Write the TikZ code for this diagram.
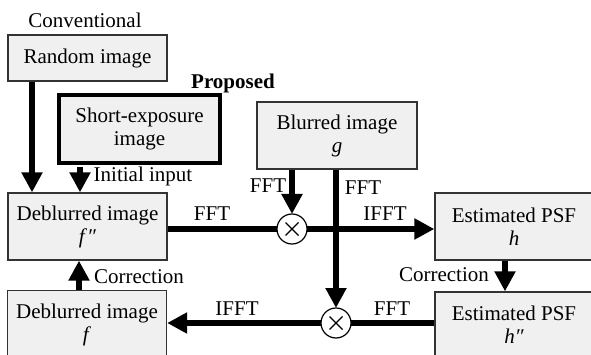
\documentclass[tikz,border=0pt]{standalone}
\usepackage{fontspec}
\setmainfont{Liberation Serif}
\usetikzlibrary{arrows.meta}

\begin{document}
\begin{tikzpicture}[x=1pt,y=-1pt,
	font=\fontsize{21}{23}\selectfont,
	box/.style={draw=black!80, line width=1.3pt, fill={rgb,255:red,240;green,240;blue,240}, align=center, inner sep=0pt},
	thickbox/.style={box, draw=black, line width=4pt},
	mult/.style={draw, circle, line width=1.2pt, fill=white, minimum size=30pt, inner sep=0pt},
	flow/.style={line width=5.5pt},
	bigtip/.style={flow, -{Triangle[width=20pt,length=20pt]}}]

\useasboundingbox (0,0) rectangle (591,355);

\node (conv) at (85,20) {Conventional};
\node[box, minimum width=159pt, minimum height=46pt] (rand) at (87.5,58) {Random image};
\node (prop) at (233,83) {\bfseries Proposed};
\node[thickbox, minimum width=161pt, minimum height=68pt] (short) at (139.5,129) {Short-exposure\\image};

\node[box, minimum width=159pt, minimum height=67pt] (fpp) at (87.5,226.5) {Deblurred image\\\textit{f}\textit{\char"2033}};
\node[box, minimum width=159pt, minimum height=68pt] (f) at (87,324.5) {Deblurred image\\\textit{f}};
\node[box, minimum width=160pt, minimum height=67pt] (g) at (337,135.5) {Blurred image\\\textit{g}};
\node[box, minimum width=158pt, minimum height=67pt] (h) at (514,226.5) {Estimated PSF\\\textit{h}};
\node[box, minimum width=158pt, minimum height=66pt] (hpp) at (514,325) {Estimated PSF\\\textit{h}\textit{\char"2033}};

\coordinate (c1) at (292,229);
\coordinate (c2) at (336,323);

% labels
\node (l1) at (143,176) {Initial input};
\node (l2) at (268,186) {FFT};
\node (l3) at (363,188) {FFT};
\node (l4) at (212,214) {FFT};
\node (l5) at (385,214) {IFFT};
\node (l6) at (139,277) {Correction};
\node (l7) at (444,275) {Correction};
\node (l8) at (237,309) {IFFT};
\node (l9) at (392,309) {FFT};

% connectors
\coordinate (ra) at (rand.south -| 32,0);
\coordinate (rb) at (fpp.north -| 32,0);
\draw[bigtip] (ra) -- (rb);
\coordinate (sa) at (short.south -| 80,0);
\coordinate (sb) at (fpp.north -| 80,0);
\draw[bigtip] ([yshift=-2pt]sa) -- (sb);

\coordinate (g1) at (g.south -| c1);
\coordinate (g2) at (g.south -| c2);
\draw[bigtip] (g2) -- ([yshift=15pt]c2);
\draw[flow] (fpp.east |- c1) -- (c1);
\draw[bigtip] (c1) -- (h.west |- c1);
\draw[bigtip] (g1) -- ([yshift=15pt]c1);
\draw[flow] (hpp.west |- c2) -- (c2);
\draw[bigtip] (c2) -- (f.east |- c2);

\coordinate (fa) at (f.north -| 79,0);
\coordinate (fb) at (fpp.south -| 79,0);
\draw[bigtip] (fa) -- (fb);
\coordinate (ha) at (h.south -| 505,0);
\coordinate (hb) at (hpp.north -| 505,0);
\draw[bigtip] (ha) -- (hb);

% multipliers
\foreach \c in {c1,c2} {
	\node[mult] (m\c) at (\c) {};
	\draw[line width=1.2pt] (\c) ++(-6.5,-6.5) -- ++(13,13) (\c) ++(-6.5,6.5) -- ++(13,-13);
}
\end{tikzpicture}
\end{document}
